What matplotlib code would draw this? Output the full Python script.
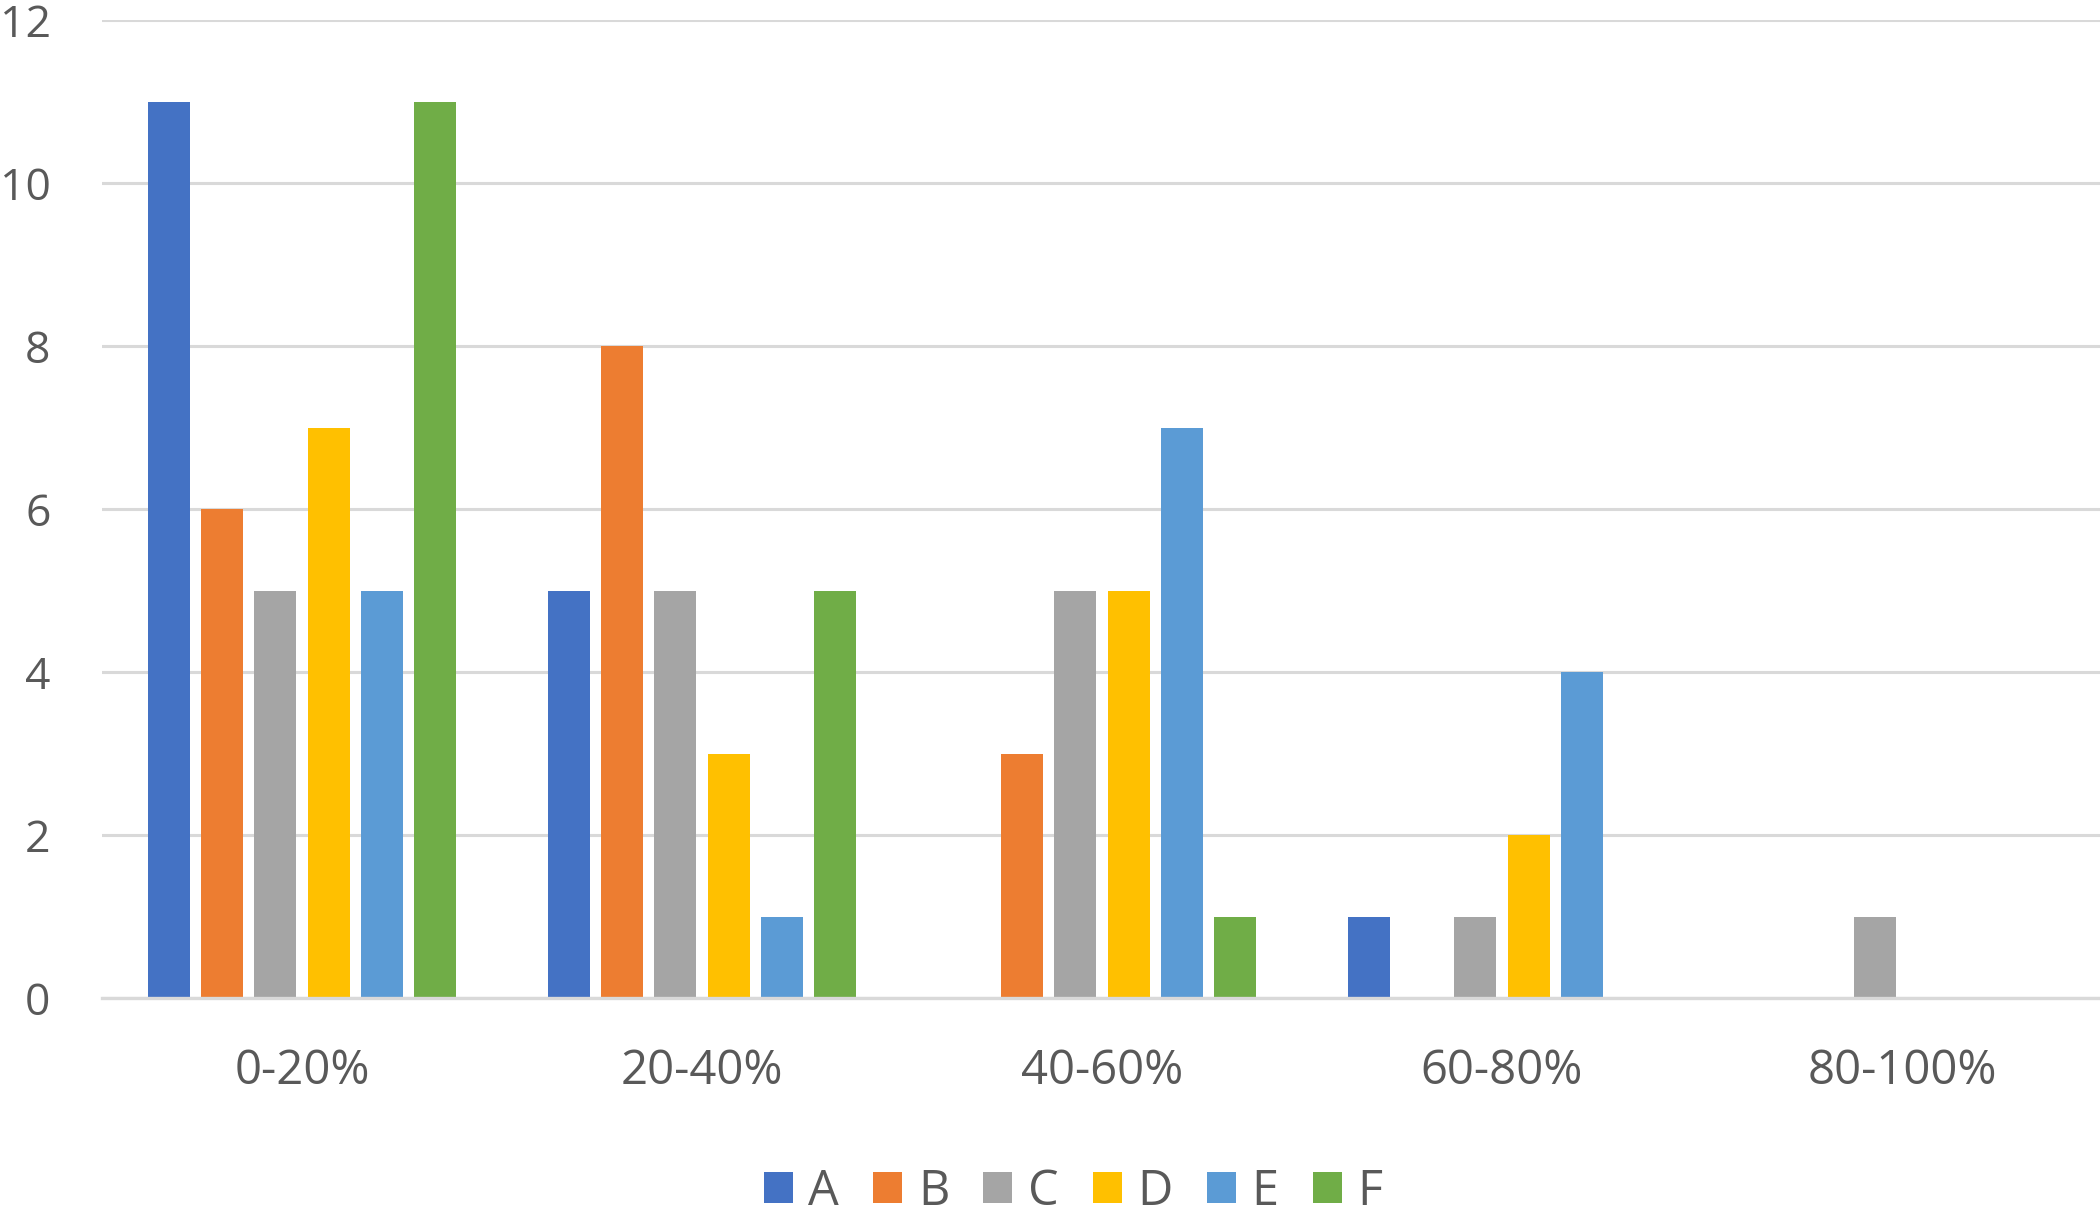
import matplotlib
matplotlib.use("Agg")
import matplotlib.pyplot as plt
import numpy as np

categories = ["0-20%", "20-40%", "40-60%", "60-80%", "80-100%"]
series_names = ["A", "B", "C", "D", "E", "F"]
A = [11, 5, 0, 1, 0]
B = [6, 8, 3, 0, 0]
C = [5, 5, 5, 1, 1]
D = [7, 3, 5, 2, 0]
E = [5, 1, 7, 4, 0]
F = [11, 5, 1, 0, 0]
series_values = [A, B, C, D, E, F]
colors = ["#4472C4", "#ED7D31", "#A5A5A5", "#FFC000", "#5B9BD5", "#70AD47"]
yticks = [0, 2, 4, 6, 8, 10, 12]

plt.rcParams['font.family'] = ['Open Sans', 'DejaVu Sans']
text_color = "#595959"
grid_color = "#D9D9D9"

fig = plt.figure(figsize=(21, 12.09), dpi=100)
ax = fig.add_axes([102/2100, (1209-998)/1209, 2000/2100, 978/1209])

x = np.arange(len(categories))
step = 0.133
width = 0.105
n = len(series_names)
for i, (name, vals, col) in enumerate(zip(series_names, series_values, colors)):
    offs = (i - (n - 1) / 2) * step
    ax.bar(x + offs, vals, width=width, color=col, label=name, zorder=3)

ax.set_xlim(-0.5, len(categories) - 0.5)
ax.set_ylim(0, 12)
ax.set_yticks(yticks)
ax.set_yticklabels([str(t) for t in yticks])
ax.set_xticks(x)
ax.set_xticklabels(categories)
ax.yaxis.grid(True, color=grid_color, linewidth=2.2, zorder=0)
ax.set_axisbelow(True)
for s in ["top", "right", "left"]:
    ax.spines[s].set_visible(False)
ax.spines["bottom"].set_color(grid_color)
ax.spines["bottom"].set_linewidth(2.4)
ax.spines["bottom"].set_zorder(4)
ax.tick_params(axis="both", length=0, labelcolor=text_color)
ax.tick_params(axis="y", pad=37, labelsize=32)
ax.tick_params(axis="x", pad=36, labelsize=34)

leg = fig.legend(loc="center", bbox_to_anchor=(1073/2100, 17/1209), ncol=6,
                 frameon=False, fontsize=35, handlelength=0.6, handleheight=0.6,
                 handletextpad=0.32, columnspacing=0.7, labelcolor=text_color)

fig.savefig("out.png", dpi=100)
